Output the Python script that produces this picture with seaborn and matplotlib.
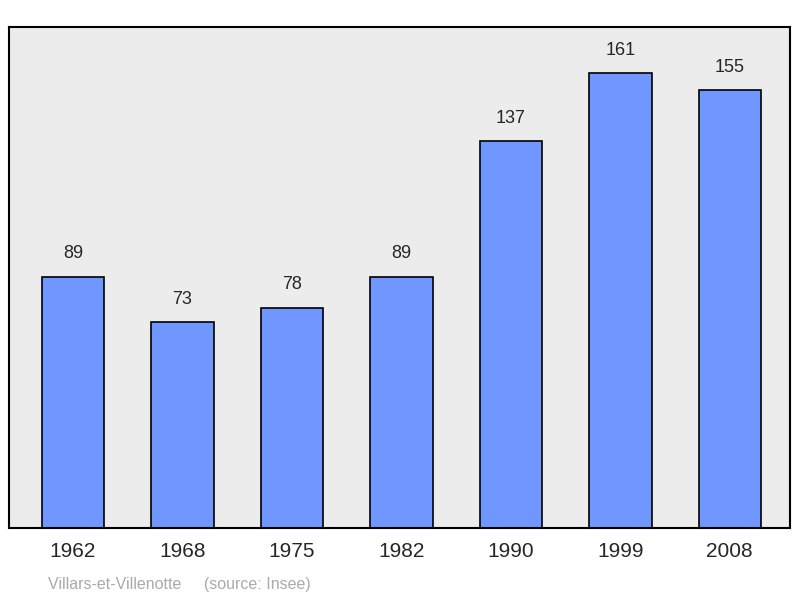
import matplotlib
matplotlib.use("Agg")
import matplotlib.pyplot as plt
import seaborn as sns
import pandas as pd

years = ["1962", "1968", "1975", "1982", "1990", "1999", "2008"]
population = [89, 73, 78, 89, 137, 161, 155]

sns.set_style("white")
plt.rcParams['font.family'] = ['Liberation Sans', 'DejaVu Sans']

df = pd.DataFrame({"year": years, "pop": population})
fig = plt.figure(figsize=(8, 5.98), dpi=100)
ax = fig.add_axes([9/800, 70/598, 781/800, 501/598])
ax.set_facecolor("#ececec")
sns.barplot(data=df, x="year", y="pop", color="#6f97ff", saturation=1,
            width=0.57, edgecolor="black", linewidth=1.2, ax=ax)
for i, v in enumerate(population):
    ax.text(i, v + 5, str(v), ha="center", va="bottom", fontsize=13)
ax.set_xlim(-0.585, 6.55)
ax.set_ylim(0, 177.3)
ax.set_yticks([])
ax.set_xlabel("")
ax.set_ylabel("")
ax.tick_params(axis="x", length=0, labelsize=15, pad=10)
for s in ax.spines.values():
    s.set_linewidth(1.5)
    s.set_color("black")
fig.text(48/800, 1 - 584/598, "Villars-et-Villenotte     (source: Insee)",
         fontsize=11.5, color="#aaaaaa", va="center")
fig.savefig("out.png", dpi=100)
